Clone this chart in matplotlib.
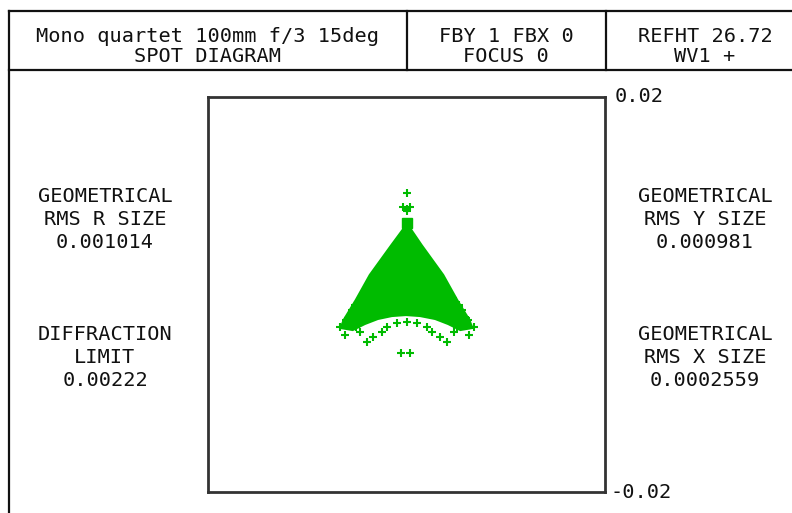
import matplotlib
matplotlib.use("Agg")
import matplotlib.pyplot as plt

# ---- data (image-plane coordinates, same units as axis labels) ----
axis_limit = 0.02
tick_labels = ["0.02", "-0.02"]

# dense core of the spot (outline of the solid region)
core_x = [-0.00025, 0.00035, 0.00152, 0.00370, 0.00511, 0.00633, 0.00664,
          0.00542, 0.00420, 0.00289, 0.00137, -0.00005, -0.00147, -0.00289,
          -0.00420, -0.00542, -0.00664, -0.00633, -0.00511, -0.00370, -0.00152]
core_y = [0.00674, 0.00674, 0.00501, 0.00198, -0.00056, -0.00258, -0.00339,
          -0.00360, -0.00299, -0.00248, -0.00218, -0.00208, -0.00218, -0.00248,
          -0.00299, -0.00360, -0.00339, -0.00258, -0.00056, 0.00198, 0.00501]

# compact block of overlapping intercepts near the apex
block_x = [0.00000]
block_y = [0.00724]

# individual ray intercepts
spot_x = [0.00005,
          -0.00040, 0.00040, 0.00005, 0.00005,
          -0.00674, -0.00623, -0.00572, -0.00504, -0.00471, -0.00403, -0.00336, -0.00251,
          -0.00201, -0.00099, 0.00002, 0.00103, 0.00205,
          0.00255, 0.00340, 0.00407, 0.00475, 0.00508, 0.00576, 0.00627, 0.00678,
          -0.00593, -0.00552, 0.00603, 0.00562,
          -0.00522, -0.00461, -0.00613, 0.00532, 0.00471, 0.00623,
          -0.00056, 0.00035]
spot_y = [0.01028,
          0.00886, 0.00886, 0.00866, 0.00846,
          -0.00326, -0.00410, -0.00292, -0.00326, -0.00377, -0.00478, -0.00427, -0.00377,
          -0.00326, -0.00292, -0.00276, -0.00292, -0.00326,
          -0.00377, -0.00427, -0.00478, -0.00377, -0.00326, -0.00292, -0.00410, -0.00326,
          -0.00238, -0.00157, -0.00238, -0.00157,
          -0.00106, -0.00035, -0.00258, -0.00106, -0.00035, -0.00258,
          -0.00593, -0.00593]

header_left = ["Mono quartet 100mm f/3 15deg", "SPOT DIAGRAM"]
header_mid = ["FBY 1 FBX 0", "FOCUS 0"]
header_right = ["REFHT 26.72", "WV1 +"]
left_block1 = ["GEOMETRICAL", "RMS R SIZE", "0.001014"]
left_block2 = ["DIFFRACTION", "LIMIT", "0.00222"]
right_block1 = ["GEOMETRICAL", "RMS Y SIZE", "0.000981"]
right_block2 = ["GEOMETRICAL", "RMS X SIZE", "0.0002559"]

# ---- figure ----
W, H = 792, 513
fig = plt.figure(figsize=(W / 100, H / 100), dpi=100)
fig.patch.set_facecolor("white")

# background frame in pixel coordinates
bg = fig.add_axes([0, 0, 1, 1])
bg.set_xlim(0, W)
bg.set_ylim(H, 0)
bg.axis("off")
lc = "#111111"
bg.plot([9, 9], [11, H + 5], color=lc, lw=1.6)
bg.plot([9, W + 5], [11, 11], color=lc, lw=1.6)
bg.plot([9, W + 5], [70, 70], color=lc, lw=1.6)
bg.plot([407, 407], [11, 70], color=lc, lw=1.6)
bg.plot([606, 606], [11, 70], color=lc, lw=1.6)

FS = 14.6
font = dict(family="DejaVu Sans Mono", fontsize=FS, color="#111111",
            ha="center", va="center")

def lines(x, y0, dy, texts):
    for i, t in enumerate(texts):
        bg.text(x, y0 + i * dy, t, **font)

lines(208, 37, 20, header_left)
lines(506, 37, 20, header_mid)
lines(705, 37, 20, header_right)
lines(105, 196, 23.5, left_block1)
lines(105, 334, 23.5, left_block2)
lines(705, 196, 23.5, right_block1)
lines(705, 334, 23.5, right_block2)

bg.text(615, 97, tick_labels[0], family="DejaVu Sans Mono", fontsize=FS,
        color="#111111", ha="left", va="center")
bg.text(611, 492, tick_labels[1], family="DejaVu Sans Mono", fontsize=FS,
        color="#111111", ha="left", va="center")

# spot diagram axes
ax = fig.add_axes([208 / W, (H - 492) / H, 397 / W, 395 / H])
ax.set_xlim(-axis_limit, axis_limit)
ax.set_ylim(-axis_limit, axis_limit)
ax.set_xticks([])
ax.set_yticks([])
for s in ax.spines.values():
    s.set_color("#333333")
    s.set_linewidth(2)

green = "#00bb00"
ax.fill(core_x, core_y, color=green, lw=1.5, ec=green)
ax.plot(block_x, block_y, ls="none", marker="s", ms=7, color=green)
ax.plot(spot_x, spot_y, ls="none", marker="+", ms=6, mew=1.5, color=green)

fig.savefig("out.png", dpi=100)
